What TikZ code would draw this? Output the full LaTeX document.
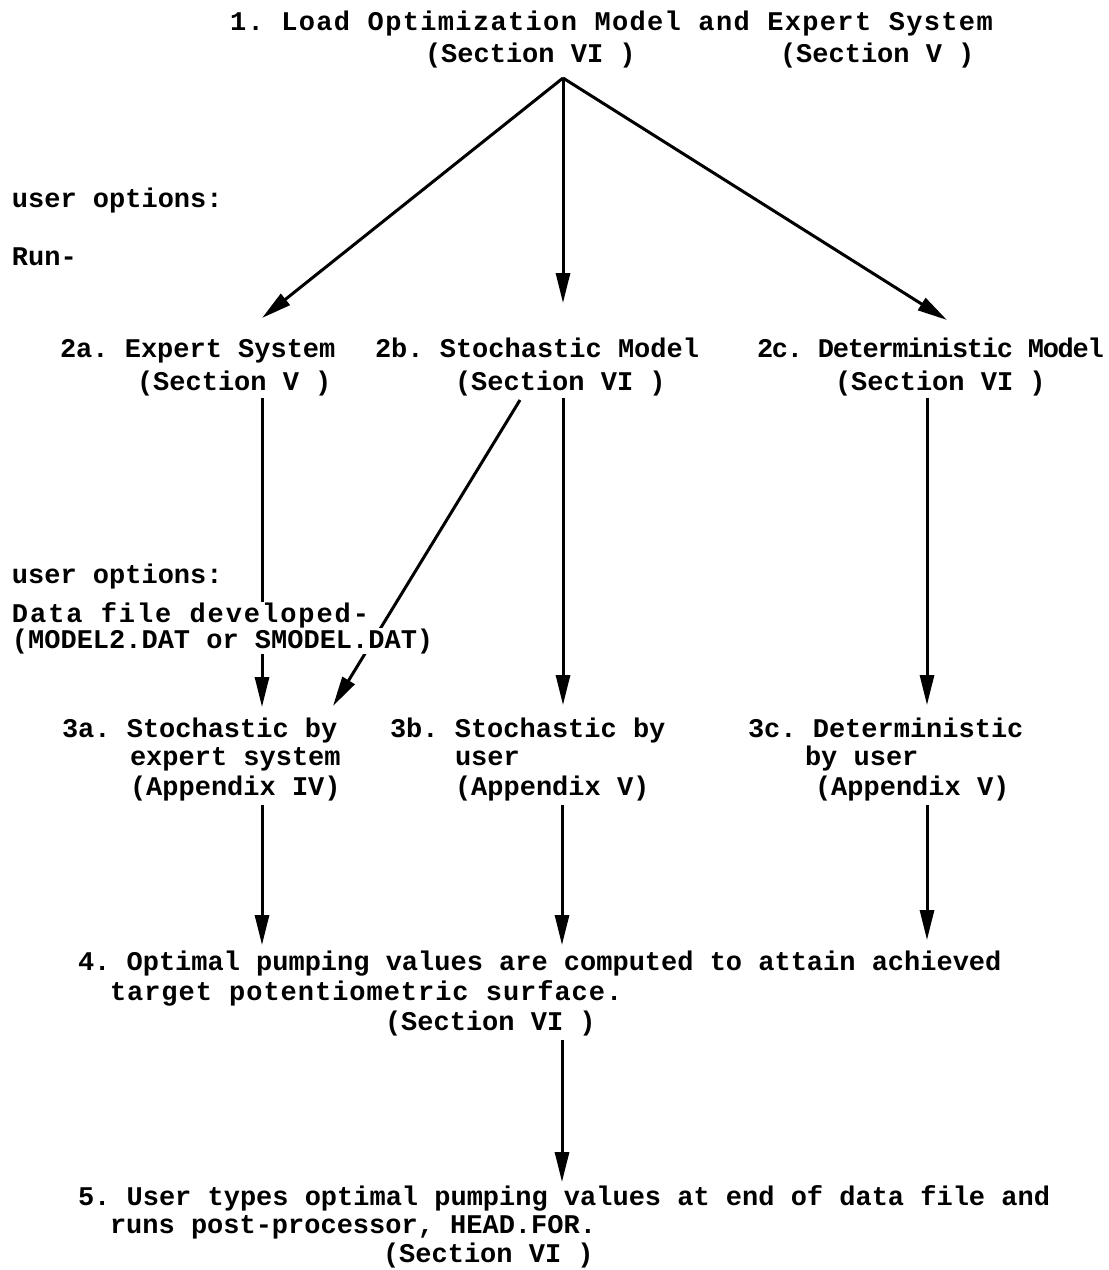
\documentclass[tikz,border=0pt]{standalone}
\usepackage{fontspec}
\setmonofont{Liberation Mono}
\usetikzlibrary{arrows.meta}
\newcommand\lsp[2]{{\addfontfeature{LetterSpace=#1}#2}}
\begin{document}
\begin{tikzpicture}[x=1pt,y=-1pt,
  txt/.style={anchor=base west,inner sep=0pt,outer sep=0pt,fill=white,
    font=\ttfamily\bfseries\fontsize{27}{30}\selectfont},
  arr/.style={line width=3pt,-{Triangle[length=30pt,width=14pt]}}]
\useasboundingbox (0,0) rectangle (1109,1270);
% connector end points
\coordinate (c1) at (563,78);
\coordinate (e2a) at (262,318);
\coordinate (e2b) at (563,303);
\coordinate (e2c) at (947,320);
\coordinate (s2a) at (262,398);
\coordinate (s2b) at (563,398);
\coordinate (s2bd) at (520,400);
\coordinate (s2c) at (927,398);
\coordinate (e3a) at (262,707);
\coordinate (e3b) at (563,705);
\coordinate (e3bd) at (333,706);
\coordinate (e3c) at (927,705);
\coordinate (s3a) at (262,805);
\coordinate (s3b) at (562,805);
\coordinate (s3c) at (927,805);
\coordinate (e4a) at (262,945);
\coordinate (e4b) at (562,945);
\coordinate (e4c) at (927,940);
\coordinate (s4) at (562,1040);
\coordinate (e5) at (562,1182);
% connectors
\draw[arr] (c1) -- (e2a);
\draw[arr] (c1) -- (e2b);
\draw[arr] (c1) -- (e2c);
\draw[arr] (s2a) -- (e3a);
\draw[arr] (s2b) -- (e3b);
\draw[arr] (s2bd) -- (e3bd);
\draw[arr] (s2c) -- (e3c);
\draw[arr] (s3a) -- (e4a);
\draw[arr] (s3b) -- (e4b);
\draw[arr] (s3c) -- (e4c);
\draw[arr] (s4) -- (e5);
% texts
\node[txt] (t1) at (230,30) {\lsp{5}{1. Load Optimization Model and Expert System}};
\node[txt] (t1b) at (425,62) {(Section VI )};
\node[txt] (t1c) at (780,62) {(Section V )};
\node[txt] (uo1) at (12,207) {user options:};
\node[txt] (run) at (12,265) {Run-};
\node[txt] (t2a) at (60,357) {2a. Expert System};
\node[txt] (t2a2) at (137,390) {(Section V )};
\node[txt] (t2b) at (375,357) {2b. Stochastic Model};
\node[txt] (t2b2) at (455,390) {(Section VI )};
\node[txt] (t2c) at (757,357) {\lsp{-4.8}{2c. Deterministic Model}};
\node[txt] (t2c2) at (835,390) {(Section VI )};
\node[txt] (uo2) at (12,583) {user options:};
\node[txt] (df) at (12,622) {\lsp{7.2}{Data file developed-}};
\node[txt] (mf) at (12,648) {(MODEL2.DAT or SMODEL.DAT)};
\node[txt] (t3a) at (62,737) {3a. Stochastic by};
\node[txt] (t3a2) at (130,765) {expert system};
\node[txt] (t3a3) at (130,795) {(Appendix IV)};
\node[txt] (t3b) at (390,737) {3b. Stochastic by};
\node[txt] (t3b2) at (455,765) {user};
\node[txt] (t3b3) at (455,795) {(Appendix V)};
\node[txt] (t3c) at (748,737) {3c. Deterministic};
\node[txt] (t3c2) at (805,765) {by user};
\node[txt] (t3c3) at (815,795) {(Appendix V)};
\node[txt] (t4) at (78,970) {4. Optimal pumping values are computed to attain achieved};
\node[txt] (t4b) at (110,1000) {\lsp{3.6}{target potentiometric surface.}};
\node[txt] (t4c) at (385,1030) {(Section VI )};
\node[txt] (t5) at (78,1205) {5. User types optimal pumping values at end of data file and};
\node[txt] (t5b) at (110,1233) {runs post-processor, HEAD.FOR.};
\node[txt] (t5c) at (383,1262) {(Section VI )};
\end{tikzpicture}
\end{document}
